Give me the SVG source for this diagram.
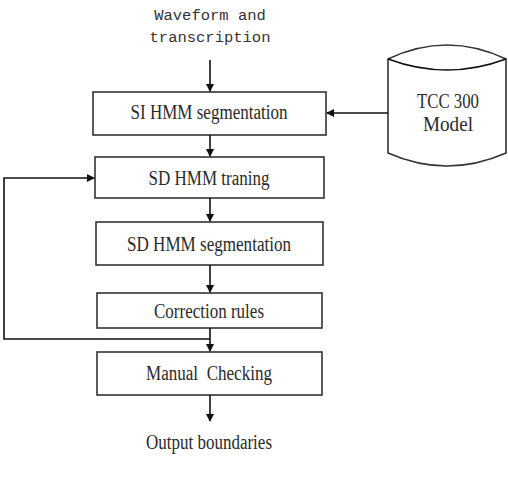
<svg xmlns="http://www.w3.org/2000/svg" width="508" height="482" viewBox="0 0 508 482">
<defs>
<marker id="ah" markerWidth="8" markerHeight="8" refX="7" refY="4" orient="auto" markerUnits="userSpaceOnUse">
<path d="M0,0 L8,4 L0,8 Z" fill="#111"/>
</marker>
<style>
.box{fill:#fff;stroke:#333;stroke-width:1.6}
.lbl{font-family:"Liberation Serif","Times New Roman",serif;font-size:20px;fill:#2a2a2a;text-anchor:middle;white-space:pre}
.mono{font-family:"Liberation Mono","Courier New",monospace;font-size:15.5px;fill:#333;text-anchor:middle}
.conn{fill:none;stroke:#111;stroke-width:1.6}
</style>
</defs>
<rect width="508" height="482" fill="#fff"/>
<g id="input">
<text class="mono" x="210" y="20">Waveform and</text>
<text class="mono" x="210" y="42">transcription</text>
</g>
<g id="si">
<rect class="box" x="93" y="92" width="233" height="43"/>
<text class="lbl" x="209" y="119" textLength="157" lengthAdjust="spacingAndGlyphs">SI HMM segmentation</text>
</g>
<g id="tcc">
<path class="box" d="M388,59 Q447,31 506,59 L506,153 Q447,179 388,153 Z"/>
<path class="conn" d="M388,59 Q447,81 506,59" stroke="#333"/>
<text class="lbl" x="448" y="108" textLength="62" lengthAdjust="spacingAndGlyphs">TCC 300</text>
<text class="lbl" x="448" y="131" textLength="50" lengthAdjust="spacingAndGlyphs">Model</text>
</g>
<g id="sdtrain">
<rect class="box" x="95" y="157" width="229" height="41"/>
<text class="lbl" x="209" y="185" textLength="121" lengthAdjust="spacingAndGlyphs">SD HMM traning</text>
</g>
<g id="sdseg">
<rect class="box" x="96" y="222" width="227" height="43"/>
<text class="lbl" x="209" y="251" textLength="164" lengthAdjust="spacingAndGlyphs">SD HMM segmentation</text>
</g>
<g id="corr">
<rect class="box" x="97" y="293" width="225" height="35"/>
<text class="lbl" x="209" y="318" textLength="110" lengthAdjust="spacingAndGlyphs">Correction rules</text>
</g>
<g id="manual">
<rect class="box" x="97" y="352" width="225" height="43"/>
<text class="lbl" x="209" y="380" textLength="126" lengthAdjust="spacingAndGlyphs">Manual  Checking</text>
</g>
<g id="output">
<text class="lbl" x="209" y="449" textLength="126" lengthAdjust="spacingAndGlyphs">Output boundaries</text>
</g>
<g id="connectors">
<path class="conn" d="M210,60 L210,91" marker-end="url(#ah)"/>
<path class="conn" d="M388,113 L327,113" marker-end="url(#ah)"/>
<path class="conn" d="M210,135 L210,156" marker-end="url(#ah)"/>
<path class="conn" d="M210,198 L210,221" marker-end="url(#ah)"/>
<path class="conn" d="M210,265 L210,292" marker-end="url(#ah)"/>
<path class="conn" d="M210,328 L210,351" marker-end="url(#ah)"/>
<path class="conn" d="M210,339 L4,339 L4,178 L94,178" marker-end="url(#ah)"/>
<path class="conn" d="M210,395 L210,421" marker-end="url(#ah)"/>
</g>
</svg>
